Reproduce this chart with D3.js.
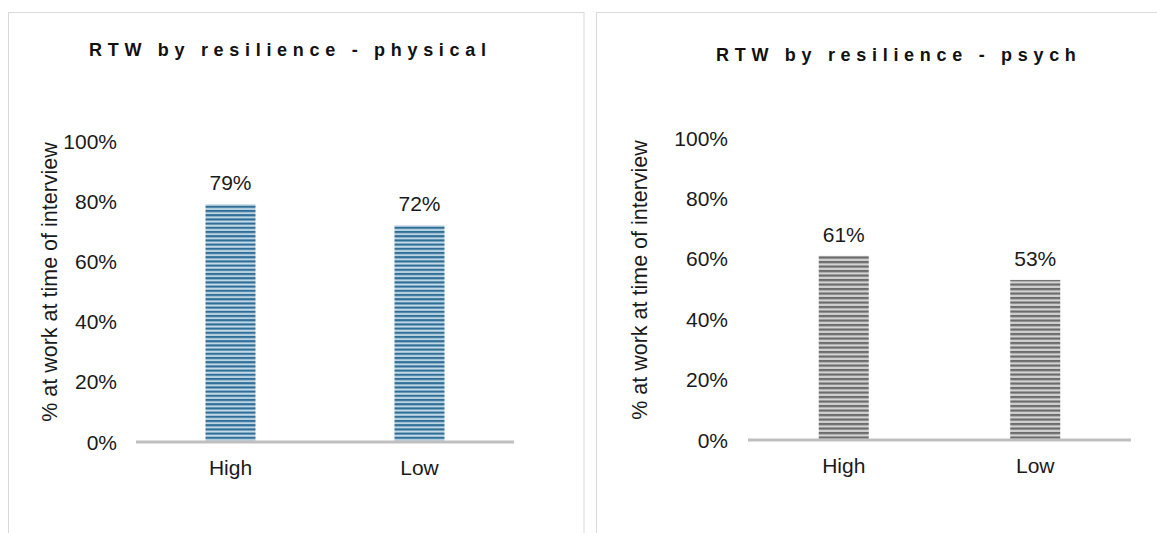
<!DOCTYPE html>
<html><head><meta charset="utf-8">
<script src="https://cdn.jsdelivr.net/npm/d3@7"></script>
<style>body{margin:0;background:#fff;font-family:"Liberation Sans",Arial,sans-serif;}</style>
</head><body>
<svg id="c" width="1157" height="533"></svg>
<script>
const categories = ["High", "Low"];
const physicalValues = [0.79, 0.72];
const psychValues = [0.61, 0.53];
const yTicks = [0, 0.2, 0.4, 0.6, 0.8, 1.0];
const titles = ["RTW by resilience - physical", "RTW by resilience - psych"];
const yTitle = "% at work at time of interview";

const svg = d3.select("#c");
const defs = svg.append("defs");
function stripe(id, dark, mid, light, h) {
  const g = defs.append("linearGradient").attr("id", id + "g").attr("x1", 0).attr("y1", 0).attr("x2", 0).attr("y2", 1);
  g.append("stop").attr("offset", "0%").attr("stop-color", dark);
  g.append("stop").attr("offset", "35%").attr("stop-color", dark);
  g.append("stop").attr("offset", "55%").attr("stop-color", mid);
  g.append("stop").attr("offset", "78%").attr("stop-color", light);
  g.append("stop").attr("offset", "100%").attr("stop-color", mid);
  const p = defs.append("pattern").attr("id", id).attr("patternUnits", "userSpaceOnUse").attr("width", 8).attr("height", h);
  p.append("rect").attr("width", 8).attr("height", h).attr("fill", `url(#${id}g)`);
}
stripe("blue", "#2f6e97", "#8db4cc", "#e6f0f6", 4.2);
stripe("gray", "#6c6c6c", "#b0b0b0", "#efefef", 4.5);

// panel borders
svg.append("rect").attr("x", 8.5).attr("y", 12.5).attr("width", 575.5).attr("height", 540).attr("fill", "none").attr("stroke", "#d9d9d9");
svg.append("rect").attr("x", 596.5).attr("y", 12.5).attr("width", 580).attr("height", 540).attr("fill", "none").attr("stroke", "#d9d9d9");

const panels = [
  {values: physicalValues, title: titles[0], fill: "url(#blue)", x0: 136, x1: 514, yTop: 141, yBot: 442, titleX: 89, titleY: 56, tickX: 117, yTitleX: 57, yTitleY: 282, catY: 475},
  {values: psychValues, title: titles[1], fill: "url(#gray)", x0: 748, x1: 1131, yTop: 138, yBot: 440, titleX: 716, titleY: 61, tickX: 728, yTitleX: 647, yTitleY: 280, catY: 473}
];

panels.forEach(p => {
  const g = svg.append("g");
  const y = d3.scaleLinear().domain([0, 1]).range([p.yBot, p.yTop]);
  const x = d3.scaleBand().domain(categories).range([p.x0, p.x1]).padding(0);
  const bw = 50;

  g.append("text").attr("x", p.titleX).attr("y", p.titleY).attr("text-anchor", "start")
    .attr("font-size", 18).attr("font-weight", "bold").attr("letter-spacing", 5.7).attr("fill", "#111")
    .text(p.title);

  // y tick labels
  g.selectAll(".yt").data(yTicks).join("text")
    .attr("x", p.tickX).attr("y", d => y(d)).attr("dy", "0.36em").attr("text-anchor", "end")
    .attr("font-size", 21).attr("fill", "#1a1a1a").text(d3.format(".0%"));

  g.append("text").attr("transform", `translate(${p.yTitleX},${p.yTitleY}) rotate(-90)`)
    .attr("text-anchor", "middle").attr("font-size", 21.5).attr("fill", "#1a1a1a").text(yTitle);

  // bars
  g.selectAll(".bar").data(p.values).join("rect")
    .attr("x", (d, i) => x(categories[i]) + x.bandwidth() / 2 - bw / 2)
    .attr("y", d => y(d)).attr("width", bw).attr("height", d => y(0) - y(d))
    .attr("fill", p.fill);

  g.selectAll(".vl").data(p.values).join("text")
    .attr("x", (d, i) => x(categories[i]) + x.bandwidth() / 2)
    .attr("y", d => y(d) - 14).attr("text-anchor", "middle")
    .attr("font-size", 21).attr("fill", "#1a1a1a").text(d3.format(".0%"));

  // x axis line
  g.append("line").attr("x1", p.x0).attr("x2", p.x1).attr("y1", y(0)).attr("y2", y(0))
    .attr("stroke", "#bfbfbf").attr("stroke-width", 3);

  g.selectAll(".cl").data(categories).join("text")
    .attr("x", d => x(d) + x.bandwidth() / 2).attr("y", p.catY).attr("text-anchor", "middle")
    .attr("font-size", 21).attr("fill", "#1a1a1a").text(d => d);
});
</script>
</body></html>
